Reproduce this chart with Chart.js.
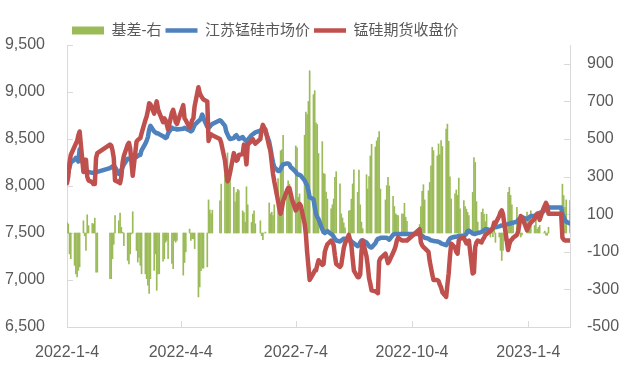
<!DOCTYPE html>
<html><head><meta charset="utf-8">
<script src="https://cdn.jsdelivr.net/npm/chart.js@4.4.0/dist/chart.umd.min.js"></script>
<style>html,body{margin:0;padding:0;background:#fff;} canvas{display:block;}</style>
</head><body>
<canvas id="c" width="638" height="369"></canvas>
<script>
const firstDay = '2022-01-04';
const lastDay = '2023-02-06';
const holidays = ['2022-01-31','2022-02-01','2022-02-02','2022-02-03','2022-02-04','2022-04-04','2022-04-05',
  '2022-05-02','2022-05-03','2022-05-04','2022-06-03','2022-09-12','2022-10-03','2022-10-04','2022-10-05',
  '2022-10-06','2022-10-07','2023-01-02','2023-01-23','2023-01-24','2023-01-25','2023-01-26','2023-01-27'];
const tickLabels = ['2022-1-4','2022-4-4','2022-7-4','2022-10-4','2023-1-4'];
const leftTicks = [6500, 7000, 7500, 8000, 8500, 9000, 9500];
const rightTicks = [-500, -300, -100, 100, 300, 500, 700, 900];
const seriesNames = ['基差-右','江苏锰硅市场价','锰硅期货收盘价'];

const spot = [
 8090,8150,8200,8250,8280,8300,8290,8260,8390,8220,8160,8150,8150,8150,8140,8140,8145,8150,8150,
 8190,8200,8210,8210,8200,8130,8140,8170,8200,8230,8290,8290,8290,8300,8300,8310,
 8320,8330,8330,8380,8450,8480,8520,8600,8640,8580,8570,8560,8560,8550,8530,8520,8510,8520,8560,8620,8610,8610,8610,
 8600,8610,8620,8610,8590,8580,8590,8620,8650,8690,8700,8720,8760,8720,8630,8620,8630,8650,8660,
 8700,8690,8640,8580,8550,8520,8500,8510,8530,8540,8520,8500,8520,8500,8490,8475,8490,8540,8550,
 8560,8570,8590,8590,8590,8590,8580,8470,8400,8320,8250,8200,8160,8160,8180,8210,8230,8240,8240,8230,8200,
 8190,8150,8130,8120,8120,8110,8060,8030,8010,7950,7880,7860,7780,7700,7670,7650,7540,7510,7500,7510,7520,
 7490,7480,7460,7440,7420,7410,7420,7430,7440,7440,7440,7430,7410,7400,7390,7360,7370,7400,7420,7420,7400,7380,7360,
 7350,7345,7390,7420,7440,7440,7450,7450,7450,7440,7430,7480,7490,7490,7490,7490,7490,7490,7490,7490,7490,
 7490,7480,7470,7460,7450,7440,7430,7420,7420,7415,7410,7405,7400,7390,7385,7370,
 7390,7420,7440,7450,7460,7460,7465,7470,7470,7470,7480,7490,7520,7525,7495,7490,7490,7495,7500,7510,7520,7530,
 7540,7540,7530,7540,7550,7560,7560,7570,7575,7580,7580,7585,7595,7600,7600,7610,7610,7620,7640,7650,7665,7665,
 7650,7660,7670,7680,7680,7690,7700,7710,7715,7730,7750,7760,7760,7770,7770,7700,
 7670,7640,7620,7600
];
const futures = [
 8030,8100,8250,8330,8420,8450,8480,8540,8580,8150,8280,8280,8100,8060,8040,8020,8020,8300,8350,
 8440,8430,8380,8300,8060,8040,8030,8100,8250,8320,8440,8460,8400,8250,8110,8470,
 8490,8500,8510,8560,8700,8740,8800,8880,8870,8770,8850,8900,8820,8780,8680,8720,8700,8650,8600,8780,8810,8760,8680,
 8660,8860,8720,8700,8620,8650,8700,8720,8850,9050,8990,8960,8940,8920,8900,8480,8520,8550,8540,
 8500,8460,8270,8150,8050,8080,8140,8350,8300,8270,8280,8330,8340,8440,8350,8230,8440,8480,8500,
 8470,8450,8500,8600,8650,8620,8600,8420,8370,8250,8130,8050,7840,7760,7705,7760,7840,7950,7980,7980,7920,
 7860,7740,7760,7800,7810,7790,7600,7490,7300,7150,7000,7070,7100,7100,7160,7210,7160,7170,7300,7345,7380,
 7420,7400,7370,7260,7170,7140,7160,7250,7340,7390,7480,7420,7370,7230,7100,7030,7030,7060,7300,7420,7250,7150,7020,
 6960,6890,6880,6870,6860,7200,7230,7280,7230,7180,7200,7290,7320,7360,7420,7450,7420,7420,7420,7420,7420,
 7540,7400,7370,7350,7340,7300,7200,7130,7060,7000,7000,6990,6950,6920,6870,6820,
 6950,7070,7250,7387,7345,7300,7280,7420,7440,7450,7420,7390,7410,7420,7070,7080,7350,7400,7420,7400,7430,7450,
 7480,7490,7520,7530,7560,7610,7600,7680,7720,7740,7700,7600,7320,7380,7420,7430,7450,7480,7520,7600,7680,7670,
 7530,7560,7590,7610,7650,7680,7705,7690,7640,7760,7790,7820,7790,7705,7705,7450,
 7430,7420,7420,7420
];
const basis = [
 56,48,-111,-137,-172,-217,-234,-199,-180,65,-14,-93,97,39,51,48,79,-208,-208,
 -243,-243,-137,-60,92,65,106,30,4,-67,-146,-164,-111,-5,113,-93,
 -155,-130,-172,-217,-217,-243,-278,-322,-243,-199,-111,-305,-217,-217,-150,-137,-49,-40,-137,-162,-190,-40,-49,
 -40,-224,-157,-100,21,-40,-30,-31,-83,-340,-287,-200,-187,-187,-180,176,123,102,121,
 171,260,312,338,426,329,294,243,166,215,232,225,118,109,58,246,150,56,100,
 118,49,65,-14,-35,0,5,160,102,111,93,150,290,172,437,442,520,234,278,260,208,
 190,463,454,190,208,137,520,643,630,700,863,736,757,586,577,423,486,317,313,217,181,
 128,150,181,296,326,261,102,80,53,28,116,120,180,261,336,216,335,150,58,23,310,234,300,
 410,472,458,490,507,539,234,176,252,296,250,195,141,102,95,93,102,100,158,84,62,
 45,141,222,257,176,225,269,357,456,438,410,474,417,491,460,553,
 579,488,299,181,208,229,200,292,128,172,141,127,110,93,216,401,375,167,58,110,128,100,
 60,100,-21,10,-20,30,-50,-21,-92,-146,-92,-40,216,243,200,150,58,137,40,20,-21,-10,
 111,90,70,118,40,102,20,30,40,0,10,-12,-12,30,60,260,
 199,137,176,172
];

function dayNum(s){ const p = s.split('-').map(Number); return Math.round(Date.UTC(p[0], p[1]-1, p[2]) / 86400000); }
const d0 = dayNum(firstDay);
const tradeDays = [];
for (let d = d0; d <= dayNum(lastDay); d++) {
  const dt = new Date(d * 86400000);
  const wd = dt.getUTCDay();
  const iso = dt.toISOString().slice(0, 10);
  if (wd === 0 || wd === 6 || holidays.includes(iso)) continue;
  tradeDays.push(d - d0);
}
const tickDays = tickLabels.map(s => dayNum(s) - d0);
const toPts = arr => arr.map((v, i) => ({x: tradeDays[i], y: v}));

const GREEN = '#9bbb59', BLUE = '#4f81bd', RED = '#c0504d', TXT = '#595959', AX = '#d9d9d9';
const FONT = "'Liberation Sans', 'Noto Sans CJK SC', sans-serif";

const innerTicks = {
  id: 'innerTicks',
  beforeDatasetsDraw(chart) {
    const {ctx, chartArea: a, scales} = chart;
    ctx.save();
    ctx.strokeStyle = AX; ctx.lineWidth = 1;
    ctx.beginPath();
    scales.y.ticks.forEach(t => { const y = Math.round(scales.y.getPixelForValue(t.value)) + 0.5; ctx.moveTo(a.left, y); ctx.lineTo(a.left + 6, y); });
    scales.y1.ticks.forEach(t => { const y = Math.round(scales.y1.getPixelForValue(t.value)) + 0.5; ctx.moveTo(a.right - 6, y); ctx.lineTo(a.right, y); });
    scales.x.ticks.forEach(t => { const x = Math.round(scales.x.getPixelForValue(t.value)) + 0.5; ctx.moveTo(x, a.bottom); ctx.lineTo(x, a.bottom - 6); });
    ctx.stroke();
    ctx.restore();
  }
};
const legendShift = {
  id: 'legendShift',
  afterLayout(chart) { const l = chart.legend; if (l) { l.left = 68; l.top = 19; } }
};

new Chart(document.getElementById('c'), {
  type: 'line',
  data: {
    datasets: [
      { type: 'bar', label: seriesNames[0], data: toPts(basis), backgroundColor: GREEN, borderWidth: 0,
        barThickness: 1, yAxisID: 'y1', order: 3 },
      { label: seriesNames[1], data: toPts(spot), borderColor: BLUE, backgroundColor: BLUE, borderWidth: 4.5,
        pointRadius: 0, tension: 0, borderJoinStyle: 'round', borderCapStyle: 'round', yAxisID: 'y', order: 2 },
      { label: seriesNames[2], data: toPts(futures), borderColor: RED, backgroundColor: RED, borderWidth: 4.5,
        pointRadius: 0, tension: 0, borderJoinStyle: 'round', borderCapStyle: 'round', yAxisID: 'y', order: 1 }
    ]
  },
  options: {
    responsive: false, animation: false, devicePixelRatio: 1,
    layout: { padding: { top: 16, left: 0, right: 0, bottom: 0 } },
    plugins: {
      tooltip: { enabled: false },
      legend: {
        position: 'top', align: 'start',
        labels: {
          color: TXT, font: { family: FONT, size: 15 }, boxWidth: 32, boxHeight: 8, padding: 4,
          usePointStyle: true, pointStyleWidth: 32,
          sort: (a, b) => a.datasetIndex - b.datasetIndex,
          generateLabels: chart => Chart.defaults.plugins.legend.labels.generateLabels(chart).map(it => {
            it.pointStyle = it.datasetIndex === 0 ? 'rect' : 'line';
            return it;
          })
        }
      }
    },
    scales: {
      x: {
        type: 'linear', min: 0, max: dayNum(lastDay) - d0, offset: false,
        grid: { display: false, drawTicks: false },
        border: { display: true, color: AX, width: 1 },
        afterBuildTicks: s => { s.ticks = tickDays.map(v => ({ value: v })); },
        afterFit: s => { s.height = 42; },
        ticks: { autoSkip: false, maxRotation: 0, padding: 16, color: TXT, font: { family: FONT, size: 16 },
          callback: (v, i) => tickLabels[i] }
      },
      y: {
        type: 'linear', position: 'left', min: 6500, max: 9500,
        grid: { display: false, drawTicks: false },
        border: { display: true, color: AX, width: 1 },
        afterFit: s => { s.width = 67; },
        afterBuildTicks: s => { s.ticks = leftTicks.map(v => ({ value: v })); },
        ticks: { padding: 22, color: TXT, font: { family: FONT, size: 16 } }
      },
      y1: {
        type: 'linear', position: 'right', min: -500, max: 1000,
        grid: { display: false, drawTicks: false },
        border: { display: true, color: AX, width: 1 },
        afterFit: s => { s.width = 68; },
        afterBuildTicks: s => { s.ticks = rightTicks.map(v => ({ value: v })); },
        ticks: { padding: 17, color: TXT, font: { family: FONT, size: 16 } }
      }
    }
  },
  plugins: [innerTicks, legendShift]
});
</script>
</body></html>
